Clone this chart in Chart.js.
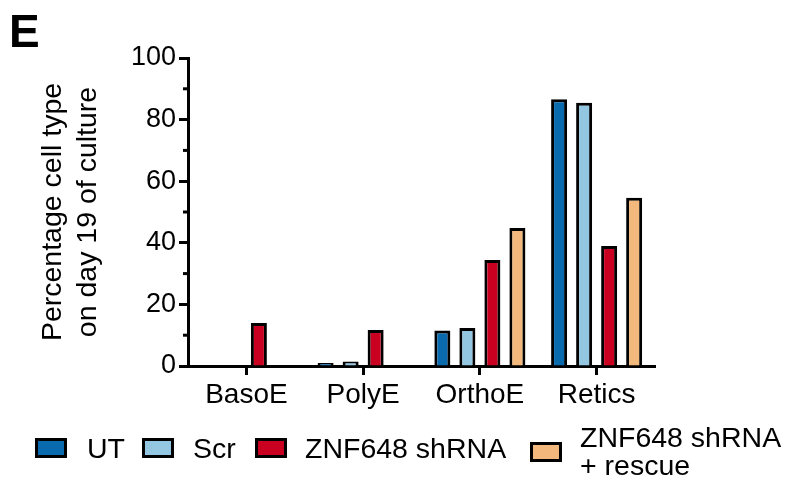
<!DOCTYPE html>
<html>
<head>
<meta charset="utf-8">
<script src="https://cdn.jsdelivr.net/npm/chart.js@4.4.1/dist/chart.umd.min.js"></script>
<style>
  body { margin: 0; background: #fff; }
  #wrap { position: relative; width: 791px; height: 482px; font-family: "Liberation Sans", Arial, sans-serif; }
  #c { position: absolute; left: 0; top: 0; }
  #panel { position: absolute; left: 9px; top: 8px; font-size: 46px; line-height: 46px; font-weight: bold; }
  .box { position: absolute; width: 32px; height: 20px; border: 3px solid #000; box-sizing: border-box; }
  .lab { position: absolute; font-size: 28.5px; line-height: 28px; color: #000; white-space: nowrap; }
</style>
</head>
<body>
<div id="wrap">
  <canvas id="c" width="791" height="482"></canvas>
  <div id="panel">E</div>
  <div id="legend"></div>
</div>
<script>
// データ
const categories = ['BasoE', 'PolyE', 'OrthoE', 'Retics'];
const seriesNames = ['UT', 'Scr', 'ZNF648 shRNA', 'ZNF648 shRNA\n+ rescue'];
const seriesColors = ['#0a6aae', '#93c6e0', '#c9001f', '#f3b87c'];
const utValues = [0, 1.0, 11.5, 86.6];
const scrValues = [0, 1.5, 12.3, 85.5];
const shValues = [14, 11.7, 34.4, 39];
const rescueValues = [0, 0, 44.8, 54.6];
const yTicks = [0, 20, 40, 60, 80, 100];
const yMinorTicks = [10, 30, 50, 70, 90];

const allValues = [utValues, scrValues, shValues, rescueValues];

// 副目盛り
const minorTickPlugin = {
    id: 'minorTicks',
    afterDraw(chart) {
        const y = chart.scales.y;
        const ctx = chart.ctx;
        ctx.save();
        ctx.strokeStyle = '#000';
        ctx.lineWidth = 3;
        yMinorTicks.forEach(v => {
            const py = y.getPixelForValue(v);
            ctx.beginPath();
            ctx.moveTo(y.right - 5, py);
            ctx.lineTo(y.right, py);
            ctx.stroke();
        });
        ctx.restore();
    }
};

new Chart(document.getElementById('c'), {
    type: 'bar',
    data: {
        labels: categories,
        datasets: allValues.map((vals, i) => ({
            label: seriesNames[i],
            data: vals,
            backgroundColor: seriesColors[i],
            borderColor: '#000',
            borderWidth: 3,
            borderSkipped: 'bottom',
            categoryPercentage: 0.857,
            barPercentage: 0.64
        }))
    },
    options: {
        responsive: false,
        animation: false,
        layout: { padding: { left: 30, top: 58, right: 136, bottom: 0 } },
        plugins: {
            legend: { display: false },
            tooltip: { enabled: false }
        },
        scales: {
            x: {
                afterFit: s => { s.height = 116; },
                grid: {
                    offset: false,
                    drawOnChartArea: false,
                    drawTicks: true,
                    tickLength: 9,
                    tickWidth: 3,
                    tickColor: '#000'
                },
                border: { display: true, color: '#000', width: 3 },
                ticks: {
                    color: '#000',
                    padding: 3,
                    font: { family: 'Liberation Sans', size: 28 }
                }
            },
            y: {
                min: 0,
                max: 100,
                afterFit: s => { s.width = 158; },
                afterBuildTicks: s => { s.ticks = yTicks.map(v => ({ value: v })); },
                grid: {
                    drawOnChartArea: false,
                    drawTicks: true,
                    tickLength: 9,
                    tickWidth: 3,
                    tickColor: '#000'
                },
                border: { display: true, color: '#000', width: 3 },
                ticks: {
                    color: '#000',
                    padding: 3,
                    font: { family: 'Liberation Sans', size: 27 }
                },
                title: {
                    display: true,
                    text: ['Percentage cell type', 'on day 19 of culture'],
                    color: '#000',
                    padding: { top: 6, bottom: 0 },
                    font: { family: 'Liberation Sans', size: 28.5, lineHeight: 1.23 }
                }
            }
        }
    },
    plugins: [minorTickPlugin]
});

// 凡例
const legendPos = [
    { box: [35, 438], text: [87, 434] },
    { box: [142, 438], text: [193, 434] },
    { box: [255, 438], text: [305, 434] },
    { box: [530, 442], text: [580, 423] }
];
const legend = document.getElementById('legend');
seriesNames.forEach((name, i) => {
    const b = document.createElement('div');
    b.className = 'box';
    b.style.left = legendPos[i].box[0] + 'px';
    b.style.top = legendPos[i].box[1] + 'px';
    b.style.background = seriesColors[i];
    legend.appendChild(b);
    const t = document.createElement('div');
    t.className = 'lab';
    t.style.left = legendPos[i].text[0] + 'px';
    t.style.top = legendPos[i].text[1] + 'px';
    t.innerHTML = name.replace('\n', '<br>');
    legend.appendChild(t);
});
</script>
</body>
</html>
